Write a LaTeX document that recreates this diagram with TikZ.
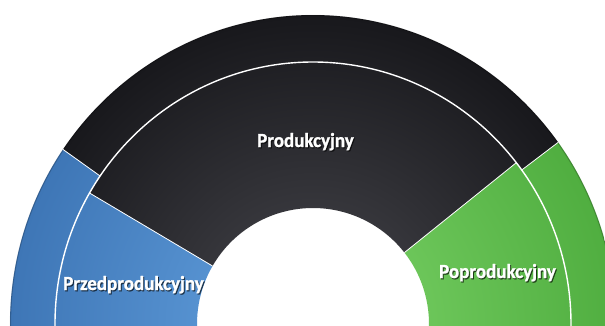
\documentclass[tikz,border=0pt]{standalone}
\usepackage{fontspec}
\newfontfamily\labelfont[FakeStretch=0.95, BoldFeatures={FakeBold=1.2}]{Carlito}
\definecolor{blueIn}{RGB}{100,162,224}
\definecolor{blueOut}{RGB}{62,118,182}
\definecolor{greenIn}{RGB}{125,212,105}
\definecolor{greenOut}{RGB}{80,174,64}
\definecolor{darkIn}{RGB}{72,72,78}
\definecolor{darkOut}{RGB}{24,24,28}
\tikzset{
  blueseg/.style={inner color=blueIn, outer color=blueOut},
  greenseg/.style={inner color=greenIn, outer color=greenOut},
  darkseg/.style={inner color=darkIn, outer color=darkOut},
  sepline/.style={white, line width=1.4pt},
  cutline/.style={white, line width=0.8pt},
  labeltext/.style={text=white, font=\labelfont\bfseries\fontsize{20}{23}\selectfont,
    inner sep=0pt, anchor=base},
  shadowtext/.style={labeltext, text=black, opacity=0.6, xshift=1pt, yshift=-1.2pt}
}
\newcommand{\phaselabel}[3]{%
  \node[shadowtext] (#1-shadow) at (#2) {#3};
  \node[labeltext] (#1) at (#2) {#3};}
\begin{document}
\begin{tikzpicture}[x=1pt,y=1pt]
\useasboundingbox (-313,-1) rectangle (292,324);
\fill[white] (-313,-1) rectangle (292,324);
\clip (-313,-1) rectangle (292,324);
% ring sectors: inner x/y radius, outer x/y radius, angles, colour
\foreach \rix/\riy/\rox/\roy/\a/\b/\seg in {
  116/116/258/262/-10/38/greenseg,
  116/116/258/262/38/150/darkseg,
  116/116/258/262/150/190/blueseg,
  258/262/303/309/-10/36/greenseg,
  258/262/303/309/36/145.6/darkseg,
  258/262/303/309/145.6/190/blueseg}
{
  \begin{scope}
    \clip (xyz polar cs:angle=\a, x radius=\rix, y radius=\riy)
      arc[start angle=\a, end angle=\b, x radius=\rix, y radius=\riy]
      -- (xyz polar cs:angle=\b, x radius=\rox, y radius=\roy)
      arc[start angle=\b, end angle=\a, x radius=\rox, y radius=\roy] -- cycle;
    \shade[\seg] (0,0) ellipse [x radius=303, y radius=309];
  \end{scope}
}
% rim shadow
\draw[black, opacity=0.2, line width=1.2pt] (0,0) ellipse [x radius=302.5, y radius=308.5];
% separators
\draw[sepline] (0,0) ellipse [x radius=258, y radius=262];
\draw[cutline] (38:116) -- (38:258 and 262);
\draw[cutline] (150:116) -- (150:258 and 262);
\draw[cutline] (36:258 and 262) -- (36:303 and 309);
\draw[cutline] (145.6:258 and 262) -- (145.6:303 and 309);
% labels
\phaselabel{prod}{-7.5,177}{Produkcyjny}
\phaselabel{pre}{-179.5,34}{Przedprodukcyjny}
\phaselabel{post}{184.5,46}{Poprodukcyjny}
\end{tikzpicture}
\end{document}
